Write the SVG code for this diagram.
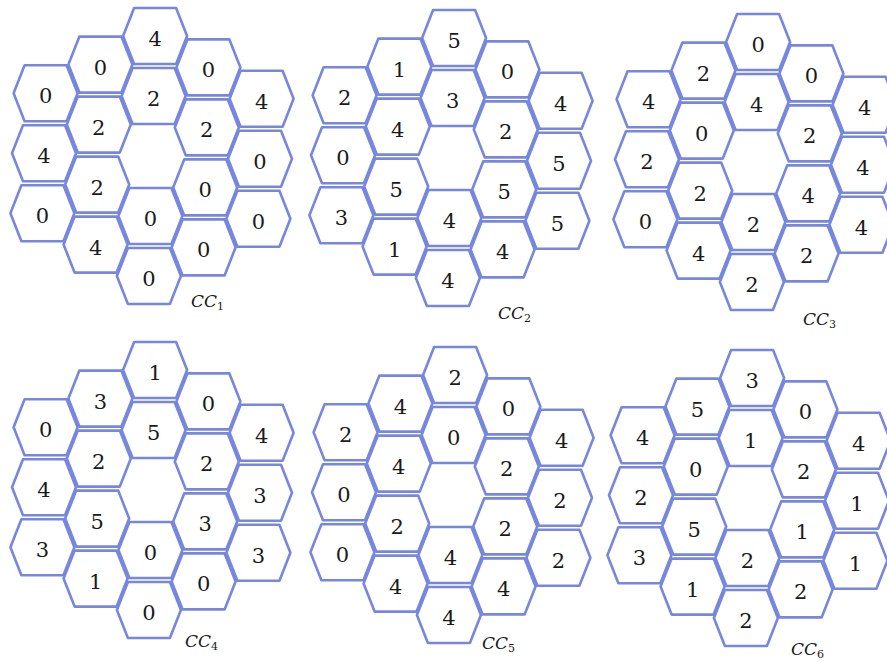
<svg xmlns="http://www.w3.org/2000/svg" xmlns:xlink="http://www.w3.org/1999/xlink" width="887" height="662" viewBox="0 0 887 662">
<style>
.hx{fill:#ffffff;stroke:#7687dd;stroke-width:2.6;stroke-linejoin:round}
.n{font-family:"DejaVu Serif","Liberation Serif",serif;font-size:21px;fill:#1a1a1a;text-anchor:middle}
.lb{font-family:"DejaVu Serif","Liberation Serif",serif;font-style:italic;font-size:17px;fill:#1a1a1a}
.sb{font-size:11px;font-style:normal}
</style>
<defs>
<polygon id="hex" class="hx" points="-32,0 -21,-28 21,-28 32,0 21,28 -21,28"/>
</defs>
<rect width="887" height="662" fill="#ffffff"/>
<g id="connectors"/>

<g id="cluster1" transform="translate(152,156)">
<g id="c1n1" transform="translate(-106.4,-62.8)"><use href="#hex"/><text class="n" y="10">0</text></g>
<g id="c1n2" transform="translate(-108,-2.8)"><use href="#hex"/><text class="n" y="10">4</text></g>
<g id="c1n3" transform="translate(-109.6,57.2)"><use href="#hex"/><text class="n" y="10">0</text></g>
<g id="c1n4" transform="translate(-51.6,-91.4)"><use href="#hex"/><text class="n" y="10">0</text></g>
<g id="c1n5" transform="translate(-53.2,-31.4)"><use href="#hex"/><text class="n" y="10">2</text></g>
<g id="c1n6" transform="translate(-54.8,28.6)"><use href="#hex"/><text class="n" y="10">2</text></g>
<g id="c1n7" transform="translate(-56.4,88.6)"><use href="#hex"/><text class="n" y="10">4</text></g>
<g id="c1n8" transform="translate(3.1,-120)"><use href="#hex"/><text class="n" y="10">4</text></g>
<g id="c1n9" transform="translate(1.6,-60)"><use href="#hex"/><text class="n" y="10">2</text></g>
<g id="c1n10" transform="translate(-1.6,60)"><use href="#hex"/><text class="n" y="10">0</text></g>
<g id="c1n11" transform="translate(-3.1,120)"><use href="#hex"/><text class="n" y="10">0</text></g>
<g id="c1n12" transform="translate(56.4,-88.6)"><use href="#hex"/><text class="n" y="10">0</text></g>
<g id="c1n13" transform="translate(54.8,-28.6)"><use href="#hex"/><text class="n" y="10">2</text></g>
<g id="c1n14" transform="translate(53.2,31.4)"><use href="#hex"/><text class="n" y="10">0</text></g>
<g id="c1n15" transform="translate(51.6,91.4)"><use href="#hex"/><text class="n" y="10">0</text></g>
<g id="c1n16" transform="translate(109.6,-57.2)"><use href="#hex"/><text class="n" y="10">4</text></g>
<g id="c1n17" transform="translate(108,2.8)"><use href="#hex"/><text class="n" y="10">0</text></g>
<g id="c1n18" transform="translate(106.4,62.8)"><use href="#hex"/><text class="n" y="10">0</text></g>
</g>

<g id="cluster2" transform="translate(451,158)">
<g id="c2n1" transform="translate(-106.4,-62.8)"><use href="#hex"/><text class="n" y="10">2</text></g>
<g id="c2n2" transform="translate(-108,-2.8)"><use href="#hex"/><text class="n" y="10">0</text></g>
<g id="c2n3" transform="translate(-109.6,57.2)"><use href="#hex"/><text class="n" y="10">3</text></g>
<g id="c2n4" transform="translate(-51.6,-91.4)"><use href="#hex"/><text class="n" y="10">1</text></g>
<g id="c2n5" transform="translate(-53.2,-31.4)"><use href="#hex"/><text class="n" y="10">4</text></g>
<g id="c2n6" transform="translate(-54.8,28.6)"><use href="#hex"/><text class="n" y="10">5</text></g>
<g id="c2n7" transform="translate(-56.4,88.6)"><use href="#hex"/><text class="n" y="10">1</text></g>
<g id="c2n8" transform="translate(3.1,-120)"><use href="#hex"/><text class="n" y="10">5</text></g>
<g id="c2n9" transform="translate(1.6,-60)"><use href="#hex"/><text class="n" y="10">3</text></g>
<g id="c2n10" transform="translate(-1.6,60)"><use href="#hex"/><text class="n" y="10">4</text></g>
<g id="c2n11" transform="translate(-3.1,120)"><use href="#hex"/><text class="n" y="10">4</text></g>
<g id="c2n12" transform="translate(56.4,-88.6)"><use href="#hex"/><text class="n" y="10">0</text></g>
<g id="c2n13" transform="translate(54.8,-28.6)"><use href="#hex"/><text class="n" y="10">2</text></g>
<g id="c2n14" transform="translate(53.2,31.4)"><use href="#hex"/><text class="n" y="10">5</text></g>
<g id="c2n15" transform="translate(51.6,91.4)"><use href="#hex"/><text class="n" y="10">4</text></g>
<g id="c2n16" transform="translate(109.6,-57.2)"><use href="#hex"/><text class="n" y="10">4</text></g>
<g id="c2n17" transform="translate(108,2.8)"><use href="#hex"/><text class="n" y="10">5</text></g>
<g id="c2n18" transform="translate(106.4,62.8)"><use href="#hex"/><text class="n" y="10">5</text></g>
</g>

<g id="cluster3" transform="translate(755,162)">
<g id="c3n1" transform="translate(-106.4,-62.8)"><use href="#hex"/><text class="n" y="10">4</text></g>
<g id="c3n2" transform="translate(-108,-2.8)"><use href="#hex"/><text class="n" y="10">2</text></g>
<g id="c3n3" transform="translate(-109.6,57.2)"><use href="#hex"/><text class="n" y="10">0</text></g>
<g id="c3n4" transform="translate(-51.6,-91.4)"><use href="#hex"/><text class="n" y="10">2</text></g>
<g id="c3n5" transform="translate(-53.2,-31.4)"><use href="#hex"/><text class="n" y="10">0</text></g>
<g id="c3n6" transform="translate(-54.8,28.6)"><use href="#hex"/><text class="n" y="10">2</text></g>
<g id="c3n7" transform="translate(-56.4,88.6)"><use href="#hex"/><text class="n" y="10">4</text></g>
<g id="c3n8" transform="translate(3.1,-120)"><use href="#hex"/><text class="n" y="10">0</text></g>
<g id="c3n9" transform="translate(1.6,-60)"><use href="#hex"/><text class="n" y="10">4</text></g>
<g id="c3n10" transform="translate(-1.6,60)"><use href="#hex"/><text class="n" y="10">2</text></g>
<g id="c3n11" transform="translate(-3.1,120)"><use href="#hex"/><text class="n" y="10">2</text></g>
<g id="c3n12" transform="translate(56.4,-88.6)"><use href="#hex"/><text class="n" y="10">0</text></g>
<g id="c3n13" transform="translate(54.8,-28.6)"><use href="#hex"/><text class="n" y="10">2</text></g>
<g id="c3n14" transform="translate(53.2,31.4)"><use href="#hex"/><text class="n" y="10">4</text></g>
<g id="c3n15" transform="translate(51.6,91.4)"><use href="#hex"/><text class="n" y="10">2</text></g>
<g id="c3n16" transform="translate(109.6,-57.2)"><use href="#hex"/><text class="n" y="10">4</text></g>
<g id="c3n17" transform="translate(108,2.8)"><use href="#hex"/><text class="n" y="10">4</text></g>
<g id="c3n18" transform="translate(106.4,62.8)"><use href="#hex"/><text class="n" y="10">4</text></g>
</g>

<g id="cluster4" transform="translate(152,490)">
<g id="c4n1" transform="translate(-106.4,-62.8)"><use href="#hex"/><text class="n" y="10">0</text></g>
<g id="c4n2" transform="translate(-108,-2.8)"><use href="#hex"/><text class="n" y="10">4</text></g>
<g id="c4n3" transform="translate(-109.6,57.2)"><use href="#hex"/><text class="n" y="10">3</text></g>
<g id="c4n4" transform="translate(-51.6,-91.4)"><use href="#hex"/><text class="n" y="10">3</text></g>
<g id="c4n5" transform="translate(-53.2,-31.4)"><use href="#hex"/><text class="n" y="10">2</text></g>
<g id="c4n6" transform="translate(-54.8,28.6)"><use href="#hex"/><text class="n" y="10">5</text></g>
<g id="c4n7" transform="translate(-56.4,88.6)"><use href="#hex"/><text class="n" y="10">1</text></g>
<g id="c4n8" transform="translate(3.1,-120)"><use href="#hex"/><text class="n" y="10">1</text></g>
<g id="c4n9" transform="translate(1.6,-60)"><use href="#hex"/><text class="n" y="10">5</text></g>
<g id="c4n10" transform="translate(-1.6,60)"><use href="#hex"/><text class="n" y="10">0</text></g>
<g id="c4n11" transform="translate(-3.1,120)"><use href="#hex"/><text class="n" y="10">0</text></g>
<g id="c4n12" transform="translate(56.4,-88.6)"><use href="#hex"/><text class="n" y="10">0</text></g>
<g id="c4n13" transform="translate(54.8,-28.6)"><use href="#hex"/><text class="n" y="10">2</text></g>
<g id="c4n14" transform="translate(53.2,31.4)"><use href="#hex"/><text class="n" y="10">3</text></g>
<g id="c4n15" transform="translate(51.6,91.4)"><use href="#hex"/><text class="n" y="10">0</text></g>
<g id="c4n16" transform="translate(109.6,-57.2)"><use href="#hex"/><text class="n" y="10">4</text></g>
<g id="c4n17" transform="translate(108,2.8)"><use href="#hex"/><text class="n" y="10">3</text></g>
<g id="c4n18" transform="translate(106.4,62.8)"><use href="#hex"/><text class="n" y="10">3</text></g>
</g>

<g id="cluster5" transform="translate(452,495)">
<g id="c5n1" transform="translate(-106.4,-62.8)"><use href="#hex"/><text class="n" y="10">2</text></g>
<g id="c5n2" transform="translate(-108,-2.8)"><use href="#hex"/><text class="n" y="10">0</text></g>
<g id="c5n3" transform="translate(-109.6,57.2)"><use href="#hex"/><text class="n" y="10">0</text></g>
<g id="c5n4" transform="translate(-51.6,-91.4)"><use href="#hex"/><text class="n" y="10">4</text></g>
<g id="c5n5" transform="translate(-53.2,-31.4)"><use href="#hex"/><text class="n" y="10">4</text></g>
<g id="c5n6" transform="translate(-54.8,28.6)"><use href="#hex"/><text class="n" y="10">2</text></g>
<g id="c5n7" transform="translate(-56.4,88.6)"><use href="#hex"/><text class="n" y="10">4</text></g>
<g id="c5n8" transform="translate(3.1,-120)"><use href="#hex"/><text class="n" y="10">2</text></g>
<g id="c5n9" transform="translate(1.6,-60)"><use href="#hex"/><text class="n" y="10">0</text></g>
<g id="c5n10" transform="translate(-1.6,60)"><use href="#hex"/><text class="n" y="10">4</text></g>
<g id="c5n11" transform="translate(-3.1,120)"><use href="#hex"/><text class="n" y="10">4</text></g>
<g id="c5n12" transform="translate(56.4,-88.6)"><use href="#hex"/><text class="n" y="10">0</text></g>
<g id="c5n13" transform="translate(54.8,-28.6)"><use href="#hex"/><text class="n" y="10">2</text></g>
<g id="c5n14" transform="translate(53.2,31.4)"><use href="#hex"/><text class="n" y="10">2</text></g>
<g id="c5n15" transform="translate(51.6,91.4)"><use href="#hex"/><text class="n" y="10">4</text></g>
<g id="c5n16" transform="translate(109.6,-57.2)"><use href="#hex"/><text class="n" y="10">4</text></g>
<g id="c5n17" transform="translate(108,2.8)"><use href="#hex"/><text class="n" y="10">2</text></g>
<g id="c5n18" transform="translate(106.4,62.8)"><use href="#hex"/><text class="n" y="10">2</text></g>
</g>

<g id="cluster6" transform="translate(749,498)">
<g id="c6n1" transform="translate(-106.4,-62.8)"><use href="#hex"/><text class="n" y="10">4</text></g>
<g id="c6n2" transform="translate(-108,-2.8)"><use href="#hex"/><text class="n" y="10">2</text></g>
<g id="c6n3" transform="translate(-109.6,57.2)"><use href="#hex"/><text class="n" y="10">3</text></g>
<g id="c6n4" transform="translate(-51.6,-91.4)"><use href="#hex"/><text class="n" y="10">5</text></g>
<g id="c6n5" transform="translate(-53.2,-31.4)"><use href="#hex"/><text class="n" y="10">0</text></g>
<g id="c6n6" transform="translate(-54.8,28.6)"><use href="#hex"/><text class="n" y="10">5</text></g>
<g id="c6n7" transform="translate(-56.4,88.6)"><use href="#hex"/><text class="n" y="10">1</text></g>
<g id="c6n8" transform="translate(3.1,-120)"><use href="#hex"/><text class="n" y="10">3</text></g>
<g id="c6n9" transform="translate(1.6,-60)"><use href="#hex"/><text class="n" y="10">1</text></g>
<g id="c6n10" transform="translate(-1.6,60)"><use href="#hex"/><text class="n" y="10">2</text></g>
<g id="c6n11" transform="translate(-3.1,120)"><use href="#hex"/><text class="n" y="10">2</text></g>
<g id="c6n12" transform="translate(56.4,-88.6)"><use href="#hex"/><text class="n" y="10">0</text></g>
<g id="c6n13" transform="translate(54.8,-28.6)"><use href="#hex"/><text class="n" y="10">2</text></g>
<g id="c6n14" transform="translate(53.2,31.4)"><use href="#hex"/><text class="n" y="10">1</text></g>
<g id="c6n15" transform="translate(51.6,91.4)"><use href="#hex"/><text class="n" y="10">2</text></g>
<g id="c6n16" transform="translate(109.6,-57.2)"><use href="#hex"/><text class="n" y="10">4</text></g>
<g id="c6n17" transform="translate(108,2.8)"><use href="#hex"/><text class="n" y="10">1</text></g>
<g id="c6n18" transform="translate(106.4,62.8)"><use href="#hex"/><text class="n" y="10">1</text></g>
</g>

<g id="labels">
<text class="lb" x="191" y="307">CC<tspan class="sb" dy="3">1</tspan></text>
<text class="lb" x="498" y="319">CC<tspan class="sb" dy="3">2</tspan></text>
<text class="lb" x="803" y="325">CC<tspan class="sb" dy="3">3</tspan></text>
<text class="lb" x="185" y="647">CC<tspan class="sb" dy="3">4</tspan></text>
<text class="lb" x="482" y="649">CC<tspan class="sb" dy="3">5</tspan></text>
<text class="lb" x="791" y="655">CC<tspan class="sb" dy="3">6</tspan></text>
</g>
</svg>
